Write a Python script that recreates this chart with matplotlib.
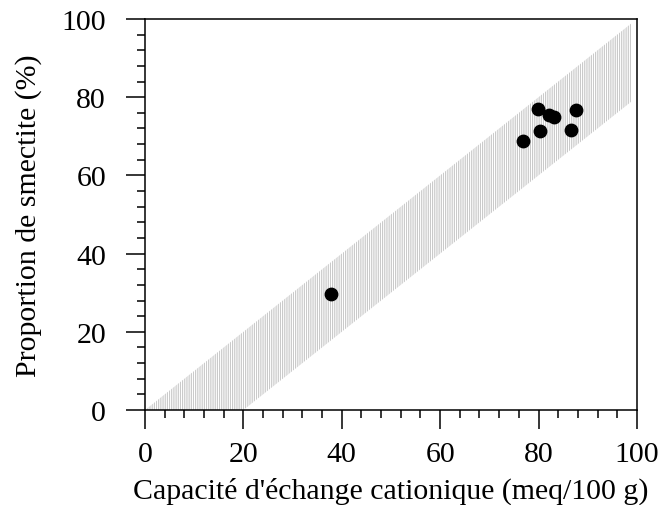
import numpy as np
import matplotlib.pyplot as plt
from matplotlib.ticker import MultipleLocator

plt.rcParams['font.family'] = ['Liberation Serif', 'DejaVu Serif']
plt.rcParams['hatch.color'] = '#b4b4b4'
plt.rcParams['hatch.linewidth'] = 0.5

# measured samples
cec = [37.8, 76.9, 79.9, 80.4, 82.2, 83.2, 86.7, 87.7]
smectite = [29.6, 68.9, 77.0, 71.4, 75.4, 74.9, 71.6, 76.6]

# shaded band (upper and lower limits)
band_x = [0, 20, 99]
band_upper = [0, 20, 99]
band_lower = [0, 0, 79]

fig = plt.figure(figsize=(6.6, 5.06), dpi=100)
ax = fig.add_axes([0.2197, 0.1877, 0.7453, 0.7728])

ax.fill_between(band_x, band_lower, band_upper, facecolor='none',
                edgecolor='#b4b4b4', hatch='|' * 9, linewidth=0)
ax.scatter(cec, smectite, s=80, color='black', zorder=3)

ax.set_xlim(0, 100)
ax.set_ylim(0, 100)
ax.xaxis.set_major_locator(MultipleLocator(20))
ax.xaxis.set_minor_locator(MultipleLocator(4))
ax.yaxis.set_major_locator(MultipleLocator(20))
ax.yaxis.set_minor_locator(MultipleLocator(4))
ax.tick_params(which='major', direction='out', length=14, width=1.1,
               labelsize=21.5)
ax.tick_params(which='minor', direction='out', length=6, width=1.1)
ax.tick_params(axis='x', which='major', pad=8)
ax.tick_params(axis='y', which='major', pad=14)
for sp in ax.spines.values():
    sp.set_linewidth(1.1)

ax.set_xlabel("Capacité d'échange cationique (meq/100 g)", fontsize=21.5, labelpad=7)
ax.set_ylabel("Proportion de smectite (%)", fontsize=21.5, labelpad=14)

fig.savefig('out.png', dpi=100)
